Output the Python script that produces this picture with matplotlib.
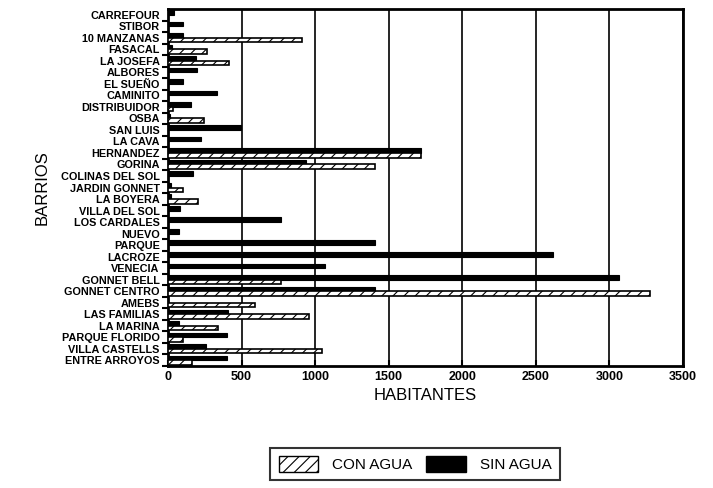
import matplotlib.pyplot as plt
from matplotlib.patches import Patch

plt.rcParams['font.family'] = ['Liberation Sans', 'DejaVu Sans']
plt.rcParams['hatch.linewidth'] = 0.8

barrios = ['CARREFOUR', 'STIBOR', '10 MANZANAS', 'FASACAL', 'LA JOSEFA', 'ALBORES',
           'EL SUEÑO', 'CAMINITO', 'DISTRIBUIDOR', 'OSBA', 'SAN LUIS', 'LA CAVA',
           'HERNANDEZ', 'GORINA', 'COLINAS DEL SOL', 'JARDIN GONNET', 'LA BOYERA',
           'VILLA DEL SOL', 'LOS CARDALES', 'NUEVO', 'PARQUE', 'LACROZE', 'VENECIA',
           'GONNET BELL', 'GONNET CENTRO', 'AMEBS', 'LAS FAMILIAS', 'LA MARINA',
           'PARQUE FLORIDO', 'VILLA CASTELLS', 'ENTRE ARROYOS']
sin_agua = [40, 100, 100, 30, 188, 195, 100, 332, 155, 15, 498, 226,
            1720, 940, 173, 20, 22, 84, 770, 73, 1405, 2615, 1069,
            3065, 1410, 0, 409, 77, 398, 261, 398]
con_agua = [0, 0, 911, 265, 416, 0, 0, 0, 33, 243, 0, 0,
            1720, 1410, 0, 100, 204, 0, 0, 0, 0, 0, 0,
            770, 3275, 593, 958, 343, 100, 1044, 166]

fig = plt.figure(figsize=(7.13, 4.88), dpi=100)
ax = fig.add_axes([168 / 713, 1 - 366 / 488, (683 - 168) / 713, (366 - 9) / 488])

y = list(range(len(barrios)))
h = 0.4
ax.barh([i - 0.2 for i in y], sin_agua, height=h, color='black', edgecolor='black',
        linewidth=0.8, zorder=3)
ax.barh([i + 0.2 for i in y], con_agua, height=h, color='white', edgecolor='black',
        hatch='///', linewidth=1.2, zorder=3)

ax.set_xlim(0, 3500)
ax.set_ylim(len(barrios) - 0.5, -0.5)
ax.set_xticks(range(0, 3501, 500))
ax.set_yticks(y)
ax.set_yticklabels(barrios, fontsize=7.8, fontweight='bold')
ax.set_yticks([i + 0.5 for i in y], minor=True)
ax.tick_params(axis='y', which='major', length=0, pad=6)
ax.tick_params(axis='y', which='minor', length=4, width=1.5, direction='out')
ax.tick_params(axis='x', labelsize=9, length=4, width=1.5, direction='in')
for lbl in ax.get_xticklabels():
    lbl.set_fontweight('bold')

ax.grid(axis='x', color='black', linewidth=1.2, zorder=0)
for s in ax.spines.values():
    s.set_linewidth(2)

ax.set_xlabel('HABITANTES', fontsize=12, labelpad=4)
ax.set_ylabel('BARRIOS', fontsize=12, labelpad=8)

handles = [Patch(facecolor='white', edgecolor='black', hatch='///', label='CON AGUA'),
           Patch(facecolor='black', edgecolor='black', label='SIN AGUA')]
leg = fig.legend(handles=handles, loc='center', bbox_to_anchor=(415 / 713, 1 - 464 / 488),
                 ncol=2, fontsize=11, frameon=True, fancybox=False, edgecolor='black',
                 handlelength=2.6, handleheight=1.2, handletextpad=0.9,
                 columnspacing=0.9, borderpad=0.55)
leg.get_frame().set_linewidth(1.5)

fig.savefig('out.png', dpi=100)
